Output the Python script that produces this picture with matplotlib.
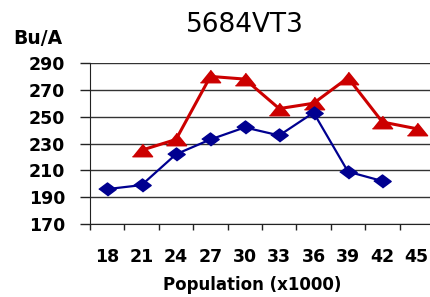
import matplotlib.pyplot as plt
import numpy as np

# population (x1000) and yields (Bu/A)
population = ["18", "21", "24", "27", "30", "33", "36", "39", "42", "45"]
blue_yield = [196, 199, 222, 233, 242, 236, 253, 209, 202, np.nan]
red_yield = [np.nan, 225, 233, 280, 278, 256, 260, 279, 246, 241]

plt.rcParams['font.family'] = 'DejaVu Sans'

fig = plt.figure(figsize=(4.3, 2.97), dpi=100)
ax = fig.add_axes([90 / 430, 73 / 297, 344 / 430, 161 / 297])

x = np.arange(len(population)) + 0.5

# wide markers, the original picture is stretched sideways
tri = [(-1, -0.62), (1, -0.62), (0, 0.62)]
dia = [(-1, 0), (0, 0.75), (1, 0), (0, -0.75)]

ax.plot(x, red_yield, color="#cc0000", lw=2.2, marker=tri, ms=14.5,
        mec="#cc0000", mfc="#cc0000", clip_on=False, zorder=3)
ax.plot(x, blue_yield, color="#000090", lw=1.6, marker=dia, ms=12.5,
        mec="#000090", mfc="#000090", clip_on=False, zorder=4)

ax.set_xlim(0, 10)
ax.set_ylim(170, 290)
ax.set_yticks(np.arange(170, 291, 20))
ax.set_xticks(np.arange(0, 11))
ax.set_xticklabels([])
ax.set_xticks(x, minor=True)
ax.set_xticklabels(population, minor=True, fontsize=12.5, fontweight="bold")
ax.tick_params(axis="x", which="minor", length=0, pad=17)
ax.tick_params(axis="x", which="major", length=4, width=1, color="#222222")
ax.tick_params(axis="y", length=7, width=1, pad=11, labelsize=12.5,
               color="#222222")
for lab in ax.get_yticklabels():
    lab.set_fontweight("bold")

ax.grid(axis="y", color="#333333", lw=1)
ax.set_axisbelow(True)
for s in ["top", "right"]:
    ax.spines[s].set_visible(False)
ax.spines["left"].set_color("#222222")
ax.spines["bottom"].set_color("#222222")

fig.text(245 / 430, 1 - 25 / 297, "5684VT3", fontsize=19, ha="center",
         va="center")
fig.text(13 / 430, 1 - 38 / 297, "Bu/A", fontsize=13.5, fontweight="bold",
         ha="left", va="center")
fig.text(252 / 430, 1 - 285 / 297, "Population (x1000)", fontsize=12,
         fontweight="bold", ha="center", va="center")

fig.savefig("out.png", dpi=100)
